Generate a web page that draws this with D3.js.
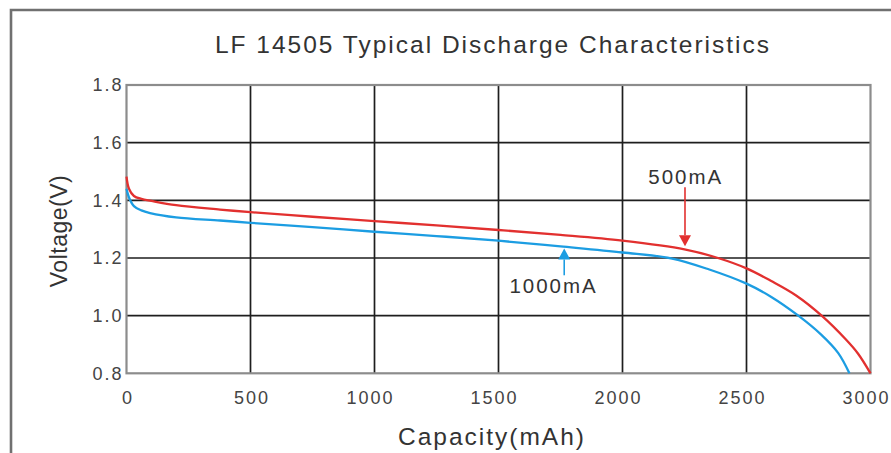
<!DOCTYPE html>
<html>
<head>
<meta charset="utf-8">
<script src="https://cdn.jsdelivr.net/npm/d3@7"></script>
<style>
  body { margin: 0; background: #fff; }
  svg { display: block; }
</style>
</head>
<body>
<div id="chart"></div>
<script>
// discharge curves
const cap500 = [0, 10, 30, 60, 100, 200, 377, 500, 750, 1000, 1250, 1500, 1750, 2000, 2250, 2385, 2500, 2600, 2700, 2803, 2900, 2950, 3000];
const volt500 = [1.482, 1.44, 1.415, 1.405, 1.398, 1.383, 1.368, 1.359, 1.343, 1.328, 1.313, 1.297, 1.280, 1.260, 1.230, 1.200, 1.164, 1.12, 1.07, 1.000, 0.918, 0.868, 0.80];

const cap1000 = [0, 10, 30, 60, 95, 200, 377, 500, 750, 1000, 1250, 1500, 1750, 2000, 2200, 2350, 2500, 2600, 2709, 2800, 2870, 2915];
const volt1000 = [1.44, 1.41, 1.38, 1.365, 1.356, 1.341, 1.330, 1.322, 1.307, 1.291, 1.276, 1.260, 1.240, 1.219, 1.198, 1.160, 1.111, 1.065, 1.000, 0.935, 0.87, 0.80];

const xTicks = [0, 500, 1000, 1500, 2000, 2500, 3000];
const yTicks = [0.8, 1.0, 1.2, 1.4, 1.6, 1.8];

// callouts: label, arrow capacity, arrow start / tip voltage, label voltage
const calloutLabels = ["500mA", "1000mA"];
const calloutCap = [2252, 1765];
const calloutFrom = [1.445, 1.14];
const calloutTip = [1.241, 1.233];
const calloutTextCap = [2255, 1722];
const calloutTextV = [1.456, 1.078];

const width = 891, height = 453;
const plot = { left: 126.5, right: 870.5, top: 85, bottom: 373.3 };
const red = "#e2302f", blue = "#1c9de2";

const x = d3.scaleLinear().domain([0, 3000]).range([plot.left, plot.right]);
const y = d3.scaleLinear().domain([0.8, 1.8]).range([plot.bottom, plot.top]);

const svg = d3.select("#chart").append("svg")
  .attr("width", width)
  .attr("height", height)
  .attr("font-family", "'Liberation Sans', Arial, sans-serif");

// outer frame (top and left edges only show)
svg.append("path")
  .attr("d", `M11,${height} V10 H${width}`)
  .attr("fill", "none")
  .attr("stroke", "#707070")
  .attr("stroke-width", 2.6);

svg.append("text")
  .attr("x", 493)
  .attr("y", 53)
  .attr("text-anchor", "middle")
  .attr("font-size", 24.5)
  .attr("letter-spacing", 2)
  .attr("fill", "#333")
  .text("LF 14505 Typical Discharge Characteristics");

// grid
const grid = svg.append("g").attr("stroke", "#1e1e1e").attr("stroke-width", 1.7);
grid.selectAll(".vx")
  .data(xTicks.slice(1, -1))
  .join("line")
  .attr("x1", d => x(d)).attr("x2", d => x(d))
  .attr("y1", plot.top).attr("y2", plot.bottom);
grid.selectAll(".hy")
  .data(yTicks.slice(1, -1))
  .join("line")
  .attr("x1", plot.left).attr("x2", plot.right)
  .attr("y1", d => y(d)).attr("y2", d => y(d));

svg.append("rect")
  .attr("x", plot.left).attr("y", plot.top)
  .attr("width", plot.right - plot.left)
  .attr("height", plot.bottom - plot.top)
  .attr("fill", "none")
  .attr("stroke", "#8c8c8c")
  .attr("stroke-width", 2.2);

// axes
const xAxis = svg.append("g")
  .attr("transform", `translate(0,${plot.bottom})`)
  .call(d3.axisBottom(x).tickValues(xTicks).tickSize(0).tickPadding(17.5).tickFormat(d3.format("d")));
const yAxis = svg.append("g")
  .attr("transform", `translate(${plot.left},0)`)
  .call(d3.axisLeft(y).tickValues(yTicks).tickSize(0).tickPadding(3).tickFormat(d3.format(".1f")));

[xAxis, yAxis].forEach(a => {
  a.select(".domain").remove();
  a.selectAll("text")
    .attr("font-family", "'Liberation Sans', Arial, sans-serif")
    .attr("font-size", 18)
    .attr("letter-spacing", 2)
    .attr("fill", "#444");
});
xAxis.selectAll("text").attr("dx", 1);

// last x label is squeezed in at the right edge, as in the source
xAxis.selectAll("text").each(function () {
  const b = this.getBBox();
  const right = plot.right + b.x + b.width - 2;
  if (right > width - 3) d3.select(this).attr("dx", 1 - (right - (width - 3)));
});

svg.append("text")
  .attr("x", 492)
  .attr("y", 445)
  .attr("text-anchor", "middle")
  .attr("font-size", 24.5)
  .attr("letter-spacing", 2)
  .attr("fill", "#333")
  .text("Capacity(mAh)");

svg.append("text")
  .attr("transform", "translate(67,231) rotate(-90)")
  .attr("text-anchor", "middle")
  .attr("font-size", 23)
  .attr("letter-spacing", 0.5)
  .attr("fill", "#333")
  .text("Voltage(V)");

// curves
const line = d3.line()
  .x(d => x(d[0]))
  .y(d => y(d[1]))
  .curve(d3.curveCatmullRom.alpha(0.5));

svg.append("path")
  .datum(d3.zip(cap1000, volt1000))
  .attr("fill", "none")
  .attr("stroke", blue)
  .attr("stroke-width", 2.3)
  .attr("d", line);

svg.append("path")
  .datum(d3.zip(cap500, volt500))
  .attr("fill", "none")
  .attr("stroke", red)
  .attr("stroke-width", 2.3)
  .attr("d", line);

// callouts
const callColors = [red, blue];
calloutLabels.forEach((label, i) => {
  const ax = x(calloutCap[i]);
  const y0 = y(calloutFrom[i]);
  const yt = y(calloutTip[i]);
  const dir = yt > y0 ? 1 : -1;
  const headLen = 11, headHalf = 6;
  svg.append("line")
    .attr("x1", ax).attr("x2", ax)
    .attr("y1", y0).attr("y2", yt - dir * headLen)
    .attr("stroke", callColors[i])
    .attr("stroke-width", 1.6);
  svg.append("path")
    .attr("d", `M${ax - headHalf},${yt - dir * headLen} L${ax + headHalf},${yt - dir * headLen} L${ax},${yt} Z`)
    .attr("fill", callColors[i]);
  svg.append("text")
    .attr("x", x(calloutTextCap[i]))
    .attr("y", y(calloutTextV[i]))
    .attr("text-anchor", "middle")
    .attr("font-size", 20.5)
    .attr("letter-spacing", 2)
    .attr("fill", "#333")
    .text(label);
});
</script>
</body>
</html>
